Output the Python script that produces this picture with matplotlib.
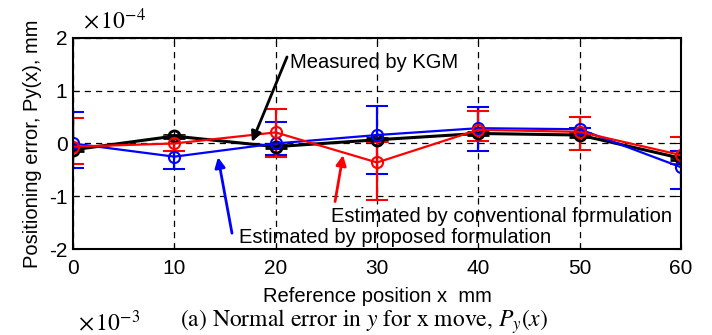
import numpy as np
import matplotlib
matplotlib.use('Agg')
import matplotlib.pyplot as plt

plt.rcParams['font.family'] = ['Liberation Sans', 'DejaVu Sans']
plt.rcParams['mathtext.fontset'] = 'stix'

# reference position, mm
x_pos = [0, 10, 20, 30, 40, 50, 60]

# values in units of 1e-4 mm
measured = [-0.12, 0.14, -0.06, 0.07, 0.19, 0.16, -0.28]
measured_err = [0.03, 0.03, 0.03, 0.03, 0.03, 0.03, 0.03]

proposed = [0.0, -0.25, 0.0, 0.16, 0.29, 0.27, -0.45]
proposed_lo = [-0.47, -0.49, -0.22, -0.58, -0.14, 0.16, -0.86]
proposed_hi = [0.59, 0.14, 0.40, 0.71, 0.69, 0.30, -0.14]

conventional = [-0.06, 0.0, 0.21, -0.36, 0.26, 0.22, -0.22]
conv_lo = [-0.39, -0.14, -0.26, -1.08, 0.05, -0.12, -0.39]
conv_hi = [0.48, 0.14, 0.65, 0.03, 0.62, 0.50, 0.13]

xticks = [0, 10, 20, 30, 40, 50, 60]
yticks = [-2, -1, 0, 1, 2]

def asym(y, lo, hi):
    y = np.array(y); lo = np.array(lo); hi = np.array(hi)
    return [y - lo, hi - y]

fig = plt.figure(figsize=(7.12, 3.35), dpi=100)
ax = fig.add_axes([0.1025, 0.2567, 0.854, 0.63])

ax.errorbar(x_pos, measured, yerr=measured_err, color='k', lw=2.2, marker='o',
            ms=8, mfc='none', mew=2, capsize=8, elinewidth=2.2, capthick=2.2)
ax.errorbar(x_pos, proposed, yerr=asym(proposed, proposed_lo, proposed_hi), color='#0000ff',
            lw=1.6, marker='o', ms=8, mfc='none', mew=1.5, capsize=8, elinewidth=1.6, capthick=1.6)
ax.errorbar(x_pos, conventional, yerr=asym(conventional, conv_lo, conv_hi), color='#ff0000',
            lw=1.6, marker='o', ms=8, mfc='none', mew=1.5, capsize=8, elinewidth=1.6, capthick=1.6)

ax.set_xlim(0, 60)
ax.set_ylim(-2, 2)
ax.set_xticks(xticks)
ax.set_yticks(yticks)
ax.set_xticklabels([str(t) for t in xticks], fontsize=15)
ax.set_yticklabels([str(t) for t in yticks], fontsize=15)
ax.tick_params(direction='in', length=4, top=True, right=True)
ax.tick_params(axis='x', pad=7)
ax.tick_params(axis='y', pad=4)
ax.grid(True, color='k', ls=(0, (5, 4)), lw=0.9)
for s in ax.spines.values():
    s.set_linewidth(1.5)

ax.set_xlabel('Reference position x  mm', fontsize=14.5, labelpad=7)
ax.set_ylabel('Positioning error, Py(x), mm', fontsize=14.5, labelpad=5)

arrow_kw = dict(arrowstyle='-|>', lw=2, mutation_scale=15, shrinkA=0, shrinkB=0)

ax.annotate('', xy=(17.66, 0.03), xytext=(21.12, 1.64),
            arrowprops=dict(color='k', **arrow_kw))
ax.text(21.4, 1.43, 'Measured by KGM', fontsize=14.5, va='baseline', ha='left')

ax.annotate('', xy=(14.31, -0.26), xytext=(15.69, -1.70),
            arrowprops=dict(color='#0000ff', **arrow_kw))
ax.text(16.38, -1.89, 'Estimated by proposed formulation', fontsize=14.5, va='baseline', ha='left')

ax.annotate('', xy=(26.65, -0.22), xytext=(25.86, -1.10),
            arrowprops=dict(color='#ff0000', **arrow_kw))
ax.text(25.43, -1.48, 'Estimated by conventional formulation', fontsize=14.5,
        va='baseline', ha='left')

fig.text(83 / 712, 1 - 21 / 335, r'$\times\,10^{-4}$', fontsize=17, va='center', ha='left')
fig.text(78 / 712, 1 - 323 / 335, r'$\times\,10^{-3}$', fontsize=17, va='center', ha='left')
fig.text(180 / 712, 1 - 322 / 335, r'(a) Normal error in $y$ for x move, $P_y(x)$',
         fontsize=17, va='center', ha='left', family='STIXGeneral')

fig.savefig('out.png', dpi=100)
